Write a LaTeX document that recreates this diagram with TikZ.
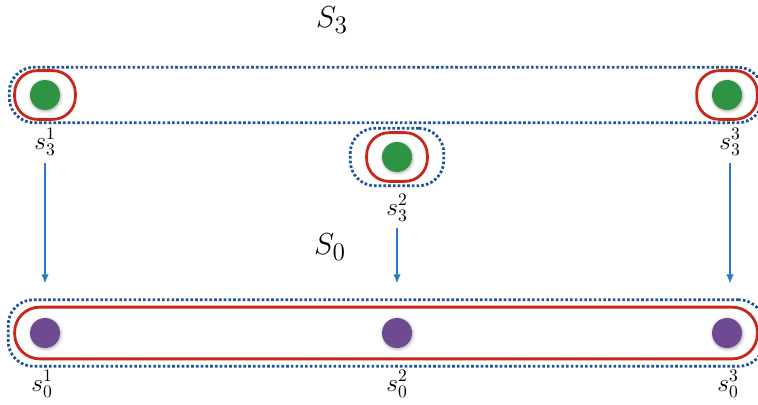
\documentclass[tikz,border=0pt]{standalone}
\usepackage{xcolor}
\usepackage{tikz}
\usetikzlibrary{arrows.meta,positioning,shadows.blur,fit}
\definecolor{dotgreen}{HTML}{2E9444}
\definecolor{dotpurple}{HTML}{6E4A93}
\definecolor{setred}{HTML}{C8281A}
\definecolor{setblue}{HTML}{1F5596}
\definecolor{mapblue}{HTML}{2A78D0}
\newcommand{\SetName}[1]{{\fontsize{19}{22}\selectfont $#1$}}
\newcommand{\PtName}[1]{{\Large $#1$}}

\begin{document}
\begin{tikzpicture}[
  dot/.style={circle, minimum size=0.6cm, inner sep=0pt,
    blur shadow={shadow xshift=0.4pt, shadow yshift=-0.6pt,
                 shadow blur steps=4, shadow opacity=35}},
  greendot/.style={dot, fill=dotgreen},
  purpledot/.style={dot, fill=dotpurple},
  redbox/.style={rectangle, draw=setred, line width=1.6pt, inner xsep=0.3cm,
    inner ysep=0.18cm, rounded corners=0.45cm},
  dotbox/.style={rectangle, draw=setblue, line width=1.6pt,
    dash pattern=on 1.5pt off 1.2pt, rounded corners=0.5cm},
  ptlabel/.style={inner sep=1pt},
  mapto/.style={-{Latex[length=1.8mm,width=1.5mm]}, draw=mapblue, line width=0.6pt}
]
\useasboundingbox (0,0) rectangle (15.16,-8.08);

% ---------- Points ----------
\node[greendot] (g1) at (0.9,-1.9) {};
\node[greendot] (g2) at (7.94,-3.14) {};
\node[greendot] (g3) at (14.54,-1.9) {};
\node[purpledot] (p1) at (0.9,-6.66) {};
\node[purpledot] (p2) at (7.94,-6.66) {};
\node[purpledot] (p3) at (14.54,-6.66) {};

% ---------- Classes ----------
\node[redbox, fit=(g1)] (r1) {};
\node[redbox, fit=(g2)] (r2) {};
\node[redbox, fit=(g3)] (r3) {};
\node[redbox, inner ysep=0.21cm, rounded corners=0.5cm, fit=(p1)(p3)] (r0) {};

\node[dotbox, inner xsep=0.08cm, inner ysep=0.04cm, fit=(r1)(r3)] (d3a) {};
\node[dotbox, inner xsep=0.3cm, inner ysep=0.06cm, fit=(r2)] (d3b) {};
\node[dotbox, inner xsep=0.1cm, inner ysep=0.12cm, fit=(r0)] (d0) {};

% ---------- Labels ----------
\node (S3) at (6.64,-0.4) {\SetName{S_3}};
\node (S0) at (6.6,-4.94) {\SetName{S_0}};

\node[ptlabel] (l31) at (0.9,-2.84) {\PtName{s_3^1}};
\node[ptlabel] (l32) at (7.94,-4.16) {\PtName{s_3^2}};
\node[ptlabel] (l33) at (14.6,-2.84) {\PtName{s_3^3}};
\node[ptlabel] (l01) at (0.84,-7.68) {\PtName{s_0^1}};
\node[ptlabel] (l02) at (7.94,-7.68) {\PtName{s_0^2}};
\node[ptlabel] (l03) at (14.56,-7.68) {\PtName{s_0^3}};

% ---------- Maps ----------
\draw[mapto, shorten <=0.12cm, shorten >=0.3cm] (l31.south) -- (l31.south |- d0.north);
\draw[mapto, shorten <=0.1cm, shorten >=0.3cm] (l32.south) -- (l32.south |- d0.north);
\draw[mapto, shorten <=0.12cm, shorten >=0.3cm] (l33.south) -- (l33.south |- d0.north);

\end{tikzpicture}
\end{document}
